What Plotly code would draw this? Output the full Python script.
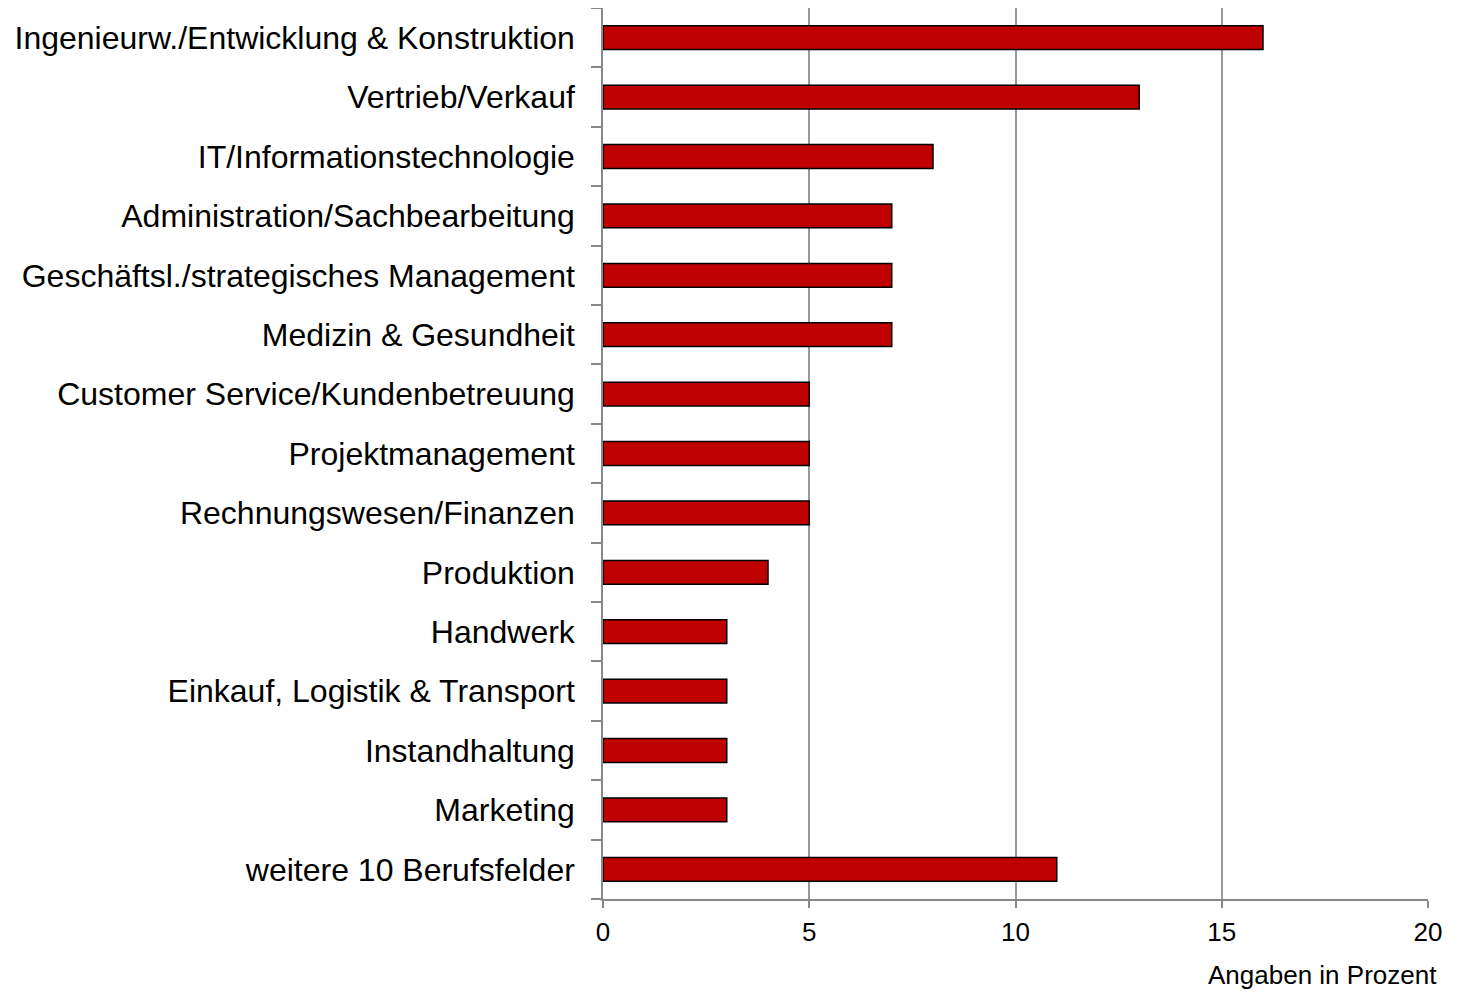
import plotly.graph_objects as go

categories = [
    "Ingenieurw./Entwicklung & Konstruktion",
    "Vertrieb/Verkauf",
    "IT/Informationstechnologie",
    "Administration/Sachbearbeitung",
    "Geschäftsl./strategisches Management",
    "Medizin & Gesundheit",
    "Customer Service/Kundenbetreuung",
    "Projektmanagement",
    "Rechnungswesen/Finanzen",
    "Produktion",
    "Handwerk",
    "Einkauf, Logistik & Transport",
    "Instandhaltung",
    "Marketing",
    "weitere 10 Berufsfelder",
]
values = [16, 13, 8, 7, 7, 7, 5, 5, 5, 4, 3, 3, 3, 3, 11]
x_ticks = [0, 5, 10, 15, 20]
axis_note = "Angaben in Prozent"

fig = go.Figure(go.Bar(
    x=values,
    y=categories,
    orientation="h",
    marker=dict(color="#BE0000", line=dict(color="#000000", width=1.5)),
    hoverinfo="x+y",
))

# page body has an 8px margin, so the figure is sized 8px smaller
fig.update_layout(
    width=1457, height=984,
    margin=dict(l=595, r=37, t=0, b=93),
    paper_bgcolor="white", plot_bgcolor="white",
    bargap=0.6,
    showlegend=False,
    font=dict(family="Liberation Sans, Arial, sans-serif", color="#000000"),
    xaxis=dict(
        range=[0, 20],
        tickvals=x_ticks,
        ticks="outside", ticklen=7, tickcolor="#888888", tickwidth=1.5,
        showgrid=True, gridcolor="#999999", gridwidth=1.5,
        zeroline=False,
        showline=True, linecolor="#888888", linewidth=1.5,
        tickfont=dict(size=26),
        ticklabelstandoff=2,
        fixedrange=True,
    ),
    yaxis=dict(
        categoryorder="array",
        categoryarray=categories[::-1],
        ticks="outside", ticklen=10, tickcolor="#888888", tickwidth=1.5,
        tickson="boundaries",
        showline=True, linecolor="#888888", linewidth=1.5,
        showgrid=False,
        tickfont=dict(size=32),
        ticklabelstandoff=20,
        fixedrange=True,
    ),
    annotations=[dict(
        text=axis_note, xref="paper", yref="paper",
        x=1 + 11 / 825, y=-76 / 891, xanchor="right", yanchor="middle",
        showarrow=False, font=dict(size=26),
    )],
)

fig.write_html("out.html")
